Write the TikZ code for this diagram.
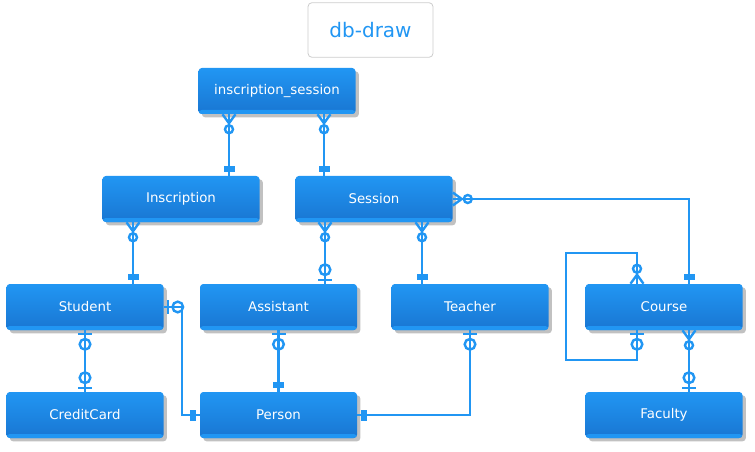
\documentclass[tikz,border=0pt]{standalone}
\usepackage{fontspec}
\setmainfont{DejaVu Sans}
\usepackage{tikz}
\usetikzlibrary{calc}
\usetikzlibrary{shadows}
\definecolor{dbblue}{RGB}{33,150,243}
\definecolor{dbdark}{RGB}{25,118,210}
\definecolor{dbgrey}{RGB}{204,204,204}
\tikzset{%
  myrel/.style={draw=dbblue, line width=1.8pt},
  myentity/.style={rectangle, rounded corners=2.5pt, minimum width=117.75pt, minimum height=34.5pt,
    inner sep=0pt, top color=dbblue, bottom color=dbdark, text=white,
    font=\fontsize{10}{12}\selectfont,
    drop shadow={shadow xshift=2.5pt, shadow yshift=-2.5pt, opacity=0.35, fill=black!70},
    path picture={\fill[dbblue] (path picture bounding box.south west) rectangle ([yshift=3pt]path picture bounding box.south east);}},
  myone/.pic={\fill[dbblue] (4,-5.5) rectangle (10,5.5);},
  myzeroone/.pic={\draw[myrel] (4,-7) -- (4,7); \draw[myrel] (14,0) circle (4pt);},
  myzeromany/.pic={\draw[myrel] (0,-6.5) -- (9,0) -- (0,6.5); \draw[myrel] (15,0) circle (3pt);}
}

\begin{document}
\begin{tikzpicture}[x=0.75pt, y=-0.75pt]
\useasboundingbox (0,0) rectangle (755,452);

\node [draw=dbgrey, rounded corners=3pt, line width=0.6pt, minimum width=93.75pt, minimum height=41pt,
  text=dbblue, font=\fontsize{15}{18}\selectfont] (title) at (370.5,30) {db-draw};

% tables
\foreach \name / \x / \y / \txt in {insSession/277/91/inscription\_session,
  inscription/181/199/Inscription, session/374/199/Session,
  student/85/307/Student, assistant/278.5/307/Assistant, teacher/470/307/Teacher, course/664/307/Course,
  creditCard/85/415/CreditCard, person/278.5/415/Person, faculty/664/415/Faculty}{
  \node [myentity] (\name) at (\x,\y) {\txt};
}

% link ends
\coordinate (a1) at ($(insSession.south)+(-48,0)$);
\coordinate (a2) at ($(insSession.south)+(47,0)$);
\coordinate (a3) at ($(inscription.south)+(-48,0)$);
\coordinate (a4) at ($(session.south)+(-49,0)$);
\coordinate (a5) at ($(session.south)+(48,0)$);
\coordinate (b1) at (a1 |- inscription.north);
\coordinate (b2) at (a2 |- session.north);
\coordinate (b3) at (a3 |- student.north);
\coordinate (b4) at (a4 |- assistant.north);
\coordinate (b5) at (a5 |- teacher.north);
\coordinate (c1) at ($(course.north)+(-27,0)$);
\coordinate (c2) at ($(course.north)+(25,0)$);
\coordinate (c3) at ($(course.south)+(-27,0)$);
\coordinate (c4) at ($(course.south)+(25,0)$);
\coordinate (f1) at (c4 |- faculty.north);
\coordinate (loopTL) at ($(course.north west)+(-19,-31)$);
\coordinate (loopBL) at ($(course.south west)+(-19,30)$);

% links
\foreach \i in {1,2,3,4,5} {
  \draw [myrel] (a\i) -- (b\i);
}
\draw [myrel] (session.east) -| (c2);
\draw [myrel] (c1) |- (loopTL) -- (loopBL) -| (c3);
\draw [myrel] (c4) -- (f1);
\draw [myrel] (student.south) -- (creditCard.north);
\draw [myrel] (student.east) -- ++(18,0) |- (person.west);
\draw [myrel] (assistant.south) -- (person.north);
\draw [myrel] (teacher.south) |- (person.east);

% crow feet
\foreach \p / \r in {a1/-90, a2/-90, a3/-90, a4/-90, a5/-90, session.east/0, c1/90, c4/-90}{
  \pic [rotate=\r] at (\p) {myzeromany};
}
\foreach \p / \r in {b4/90, c3/-90, f1/90, student.south/-90, creditCard.north/90, student.east/0,
  assistant.south/-90, teacher.south/-90}{
  \pic [rotate=\r] at (\p) {myzeroone};
}
\foreach \p / \r in {b1/90, b2/90, b3/90, b5/90, c2/90, person.west/180, person.north/90, person.east/0}{
  \pic [rotate=\r] at (\p) {myone};
}

\end{tikzpicture}
\end{document}
